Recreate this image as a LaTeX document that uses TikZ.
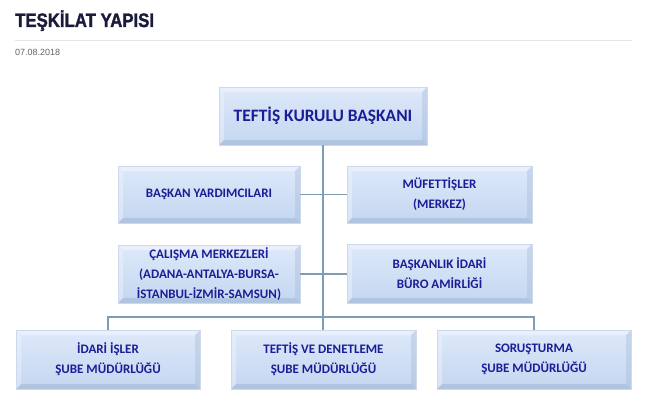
\documentclass[tikz,border=0pt]{standalone}
\usepackage{fontspec}
\setmainfont{Carlito}
\newfontfamily\titlefont{Liberation Sans}
\newfontfamily\titlefontbold{Liberation Sans Bold}[FakeBold=1.6]
\usetikzlibrary{calc}
\definecolor{navytxt}{RGB}{28,28,150}
\definecolor{titlecol}{RGB}{26,26,58}
\definecolor{datecol}{RGB}{100,100,100}
\definecolor{rulecol}{RGB}{229,229,229}
\definecolor{linkcol}{RGB}{128,155,180}
\definecolor{boxtop}{RGB}{222,233,250}
\definecolor{boxbot}{RGB}{196,214,240}
\definecolor{boxedge}{RGB}{205,218,236}
\definecolor{bevlight}{RGB}{236,242,252}
\definecolor{bevdark}{RGB}{160,182,212}
\tikzset{
  orgbox/.style={minimum width=#1, inner sep=0pt, align=center,
    font=\fontsize{13}{20}\selectfont\bfseries, text=navytxt,
    top color=boxtop, bottom color=boxbot, draw=boxedge, line width=0.8pt,
    path picture={
      \coordinate (nw) at (path picture bounding box.north west);
      \coordinate (ne) at (path picture bounding box.north east);
      \coordinate (sw) at (path picture bounding box.south west);
      \coordinate (se) at (path picture bounding box.south east);
      \fill[bevlight, opacity=0.8] (nw) -- (ne) -- ($(ne)+(-5,5)$) -- ($(nw)+(5,5)$) -- cycle;
      \fill[bevlight, opacity=0.5] (nw) -- (sw) -- ($(sw)+(5,-5)$) -- ($(nw)+(5,5)$) -- cycle;
      \fill[bevdark, opacity=0.55] (sw) -- (se) -- ($(se)+(-5,-5)$) -- ($(sw)+(5,-5)$) -- cycle;
      \fill[bevdark, opacity=0.35] (ne) -- (se) -- ($(se)+(-5,-5)$) -- ($(ne)+(-5,5)$) -- cycle;
    }},
  link/.style={draw=linkcol, line width=1.4pt},
}
\begin{document}
\begin{tikzpicture}[x=1pt,y=-1pt]
\useasboundingbox (0,0) rectangle (650,404);
% header
\node[anchor=base west, inner sep=0pt, text=titlecol, font=\titlefontbold\fontsize{19.5}{20}\selectfont]
  (title) at (15,27) {\scalebox{0.86}[1]{TEŞKİLAT YAPISI}};
\coordinate (ruleL) at (15,41);
\coordinate (ruleR) at (632,41);
\draw[rulecol, line width=1pt] (ruleL) -- (ruleR);
\node[anchor=base west, inner sep=0pt, text=datecol, font=\titlefont\fontsize{9}{10}\selectfont]
  (date) at (15,56) {07.08.2018};
% boxes
\node[orgbox=208pt, minimum height=58pt, font=\fontsize{17.4}{20}\selectfont\bfseries] (chief) at (323,116) {TEFTİŞ KURULU BAŞKANI};
\node[orgbox=182pt, minimum height=57pt] (yard) at (209,194.5) {BAŞKAN YARDIMCILARI};
\node[orgbox=185pt, minimum height=57pt] (muf) at (439.5,194.5) {MÜFETTİŞLER\\(MERKEZ)};
\node[orgbox=182pt, minimum height=58pt] (calis) at (209,274) {ÇALIŞMA MERKEZLERİ\\(ADANA-ANTALYA-BURSA-\\İSTANBUL-İZMİR-SAMSUN)};
\node[orgbox=185pt, minimum height=59pt] (buro) at (439.5,273.5) {BAŞKANLIK İDARİ\\BÜRO AMİRLİĞİ};
\node[orgbox=184pt, minimum height=59pt] (idari) at (108,359.5) {İDARİ İŞLER\\ŞUBE MÜDÜRLÜĞÜ};
\node[orgbox=185pt, minimum height=59pt] (teftis) at (323.5,359.5) {TEFTİŞ VE DENETLEME\\ŞUBE MÜDÜRLÜĞÜ};
\node[orgbox=194pt, minimum height=59pt] (sorus) at (534,359.5) {SORUŞTURMA\\ŞUBE MÜDÜRLÜĞÜ};
% connectors
\draw[link] (chief.south) -- (teftis.north -| chief.south);
\draw[link] (yard.east) -- (muf.west);
\draw[link] (calis.east) -- (buro.west |- calis.east);
\coordinate (bus) at (323,317);
\draw[link] (idari.north) -- (idari.north |- bus) -- (sorus.north |- bus) -- (sorus.north);
\end{tikzpicture}
\end{document}
